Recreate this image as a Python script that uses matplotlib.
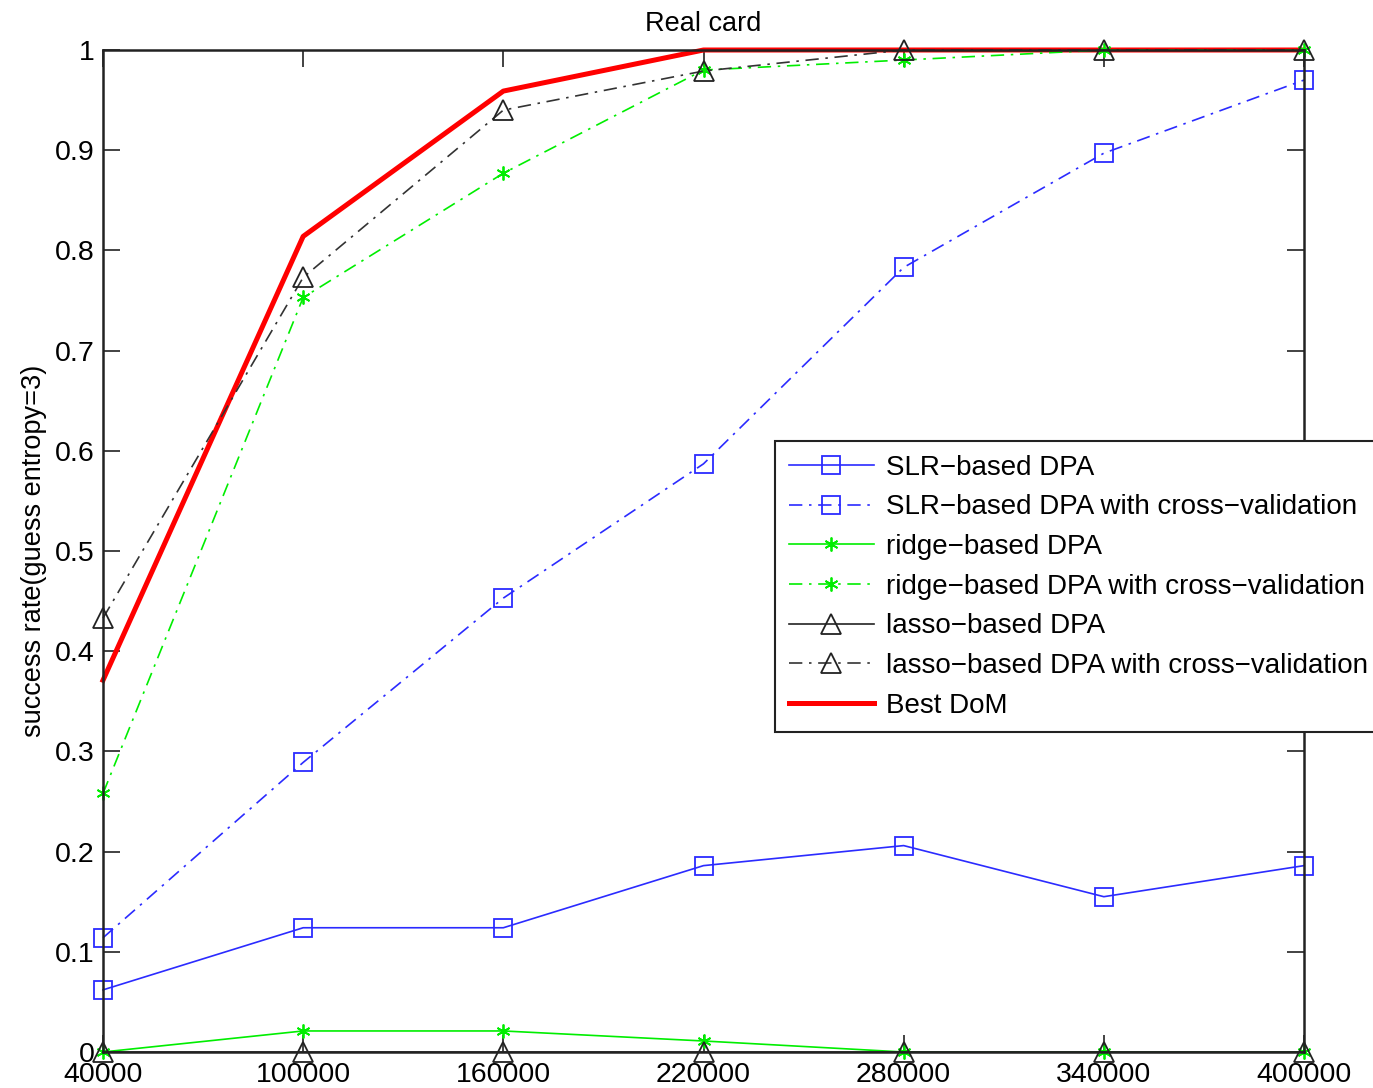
import matplotlib
matplotlib.use("Agg")
import matplotlib.pyplot as plt

plt.rcParams['font.family'] = ['Liberation Sans', 'DejaVu Sans']

x = [40000, 100000, 160000, 220000, 280000, 340000, 400000]
slr = [0.062, 0.124, 0.124, 0.186, 0.206, 0.155, 0.186]
slr_cv = [0.114, 0.289, 0.453, 0.587, 0.783, 0.897, 0.970]
ridge = [0.0, 0.021, 0.021, 0.011, 0.0, 0.0, 0.0]
ridge_cv = [0.258, 0.753, 0.877, 0.980, 0.990, 1.0, 1.0]
lasso = [0.0, 0.0, 0.0, 0.0, 0.0, 0.0, 0.0]
lasso_cv = [0.433, 0.773, 0.940, 0.979, 1.0, 1.0, 1.0]
best_dom = [0.371, 0.814, 0.959, 1.0, 1.0, 1.0, 1.0]

labels = ["SLR\u2212based DPA", "SLR\u2212based DPA with cross\u2212validation",
          "ridge\u2212based DPA", "ridge\u2212based DPA with cross\u2212validation",
          "lasso\u2212based DPA", "lasso\u2212based DPA with cross\u2212validation",
          "Best DoM"]
yticks = [0, 0.1, 0.2, 0.3, 0.4, 0.5, 0.6, 0.7, 0.8, 0.9, 1]
ytick_labels = ["0", "0.1", "0.2", "0.3", "0.4", "0.5", "0.6", "0.7", "0.8", "0.9", "1"]

fig = plt.figure(figsize=(13.73, 10.88), dpi=100)
ax = fig.add_axes([103/1373, 36/1088, 1201/1373, 1002/1088])

blue = '#2b2bff'
green = '#00ee00'
dd = (0, (8, 4, 1.5, 4))
ast = (6, 2, 0)
ms_sq = 12.5
ms_tri = 14
ms_star = 10
lw = 1.2

ax.plot(x, slr, color=blue, ls='-', lw=lw, marker='s', ms=ms_sq, mfc='none', mec=blue, mew=1.3, clip_on=False, label=labels[0])
ax.plot(x, slr_cv, color=blue, ls=dd, lw=lw, marker='s', ms=ms_sq, mfc='none', mec=blue, mew=1.3, clip_on=False, label=labels[1])
ax.plot(x, ridge, color=green, ls='-', lw=lw, marker=ast, ms=ms_star, mfc=green, mec=green, mew=1.3, clip_on=False, label=labels[2])
ax.plot(x, ridge_cv, color=green, ls=dd, lw=lw, marker=ast, ms=ms_star, mfc=green, mec=green, mew=1.3, clip_on=False, label=labels[3])
ax.plot(x, lasso, color='#222222', ls='-', lw=lw, marker='^', ms=ms_tri, mfc='none', mec='#222222', mew=1.3, clip_on=False, label=labels[4])
ax.plot(x, lasso_cv, color='#333333', ls=dd, lw=lw, marker='^', ms=ms_tri, mfc='none', mec='#222222', mew=1.3, clip_on=False, label=labels[5])
ax.plot(x, best_dom, color='#ff0000', ls='-', lw=3.6, clip_on=False, label=labels[6], zorder=1.9)

ax.set_xlim(40000, 400000)
ax.set_ylim(0, 1)
ax.set_xticks(x)
ax.set_xticklabels([str(v) for v in x])
ax.set_yticks(yticks)
ax.set_yticklabels(ytick_labels)
ax.tick_params(direction='in', length=12, width=1.2, top=True, right=True,
               labelsize=20.5, color='#222222', pad=6)
ax.tick_params(axis='x', pad=7)
for s in ax.spines.values():
    s.set_linewidth(1.8)
    s.set_color('#222222')

ax.set_title("Real card", fontsize=19.5, pad=14)
ax.set_ylabel("success rate(guess entropy=3)", fontsize=19.5, labelpad=6)

leg = ax.legend(loc='upper left', bbox_to_anchor=(0.5595, 0.6098), fontsize=20,
                frameon=True, fancybox=False, framealpha=1, edgecolor='#222222',
                handlelength=3.05, handletextpad=0.43, labelspacing=0.49,
                borderpad=0.5, borderaxespad=0)
leg.get_frame().set_linewidth(1.5)

fig.savefig("out.png", dpi=100)
